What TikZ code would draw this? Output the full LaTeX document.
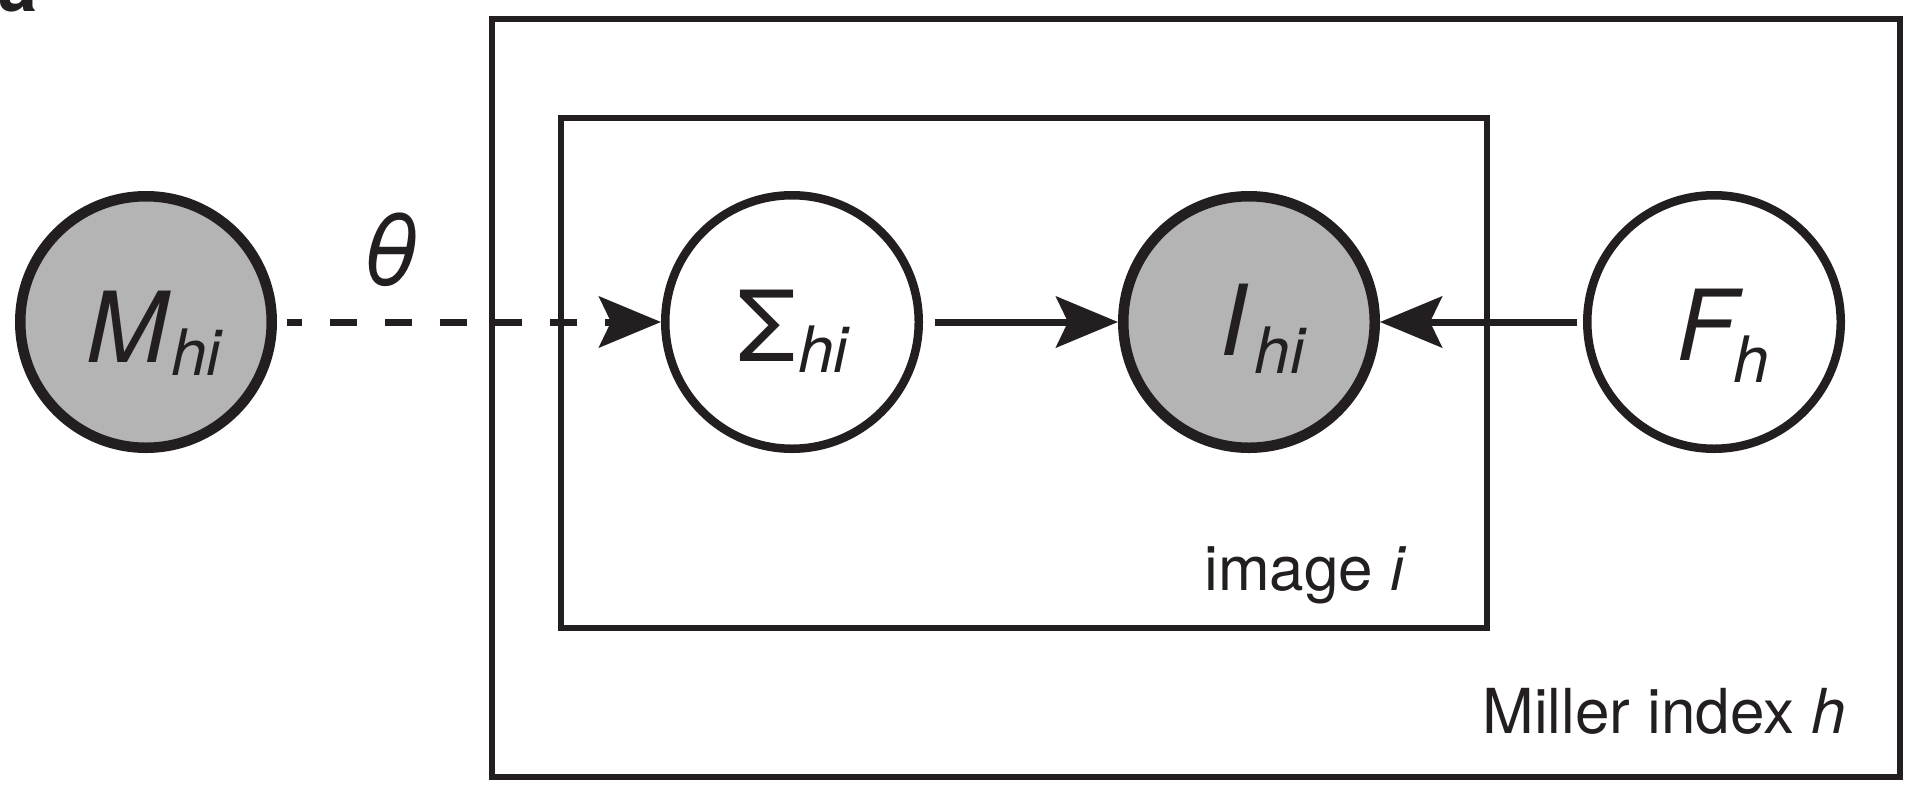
\documentclass[tikz,border=0pt]{standalone}
\usepackage{fontspec}
\setmainfont{TeX Gyre Heros}
\usetikzlibrary{arrows.meta}
\definecolor{ink}{HTML}{231F20}
\definecolor{shade}{RGB}{180,180,180}
% #1 shift right, #2 subscript drop, #3 main symbol, #4 subscript, #5 kern before subscript
\newcommand{\varlbl}[5]{\hspace*{#1}#3\kern#5\raisebox{-#2}{\fontsize{32pt}{32pt}\selectfont\textit{#4}}}
\begin{document}
\begin{tikzpicture}[x=0.5pt,y=-0.5pt,
  every node/.style={text=ink},
  bigfont/.style={font=\fontsize{49pt}{49pt}\selectfont},
  thickc/.style={circle, draw=ink, fill=shade, line width=5.25pt, minimum size=125.75pt, inner sep=0pt, text depth=0pt, bigfont},
  thinc/.style={circle, draw=ink, fill=white, line width=4.25pt, minimum size=126.75pt, inner sep=0pt, text depth=0pt, bigfont},
  plate/.style={draw=ink, line width=2.75pt, inner sep=0pt, outer sep=0pt, anchor=north west},
  tip/.style={-{Stealth[length=31pt,width=25.5pt,inset=6pt]}},
  conn/.style={draw=ink, line width=3.5pt, tip},
  smallfont/.style={font=\fontsize{31pt}{31pt}\selectfont, inner sep=0pt},
]
\useasboundingbox (0,0) rectangle (1920,798);
% plates
\node[plate, minimum width=704pt, minimum height=379pt] (outer) at (492,19) {};
\node[plate, minimum width=463pt, minimum height=255pt] (inner) at (561,118) {};
% variables
\node[thickc, text height=40pt] (M) at (146,322) {\varlbl{9pt}{6.5pt}{\textit{M}}{hi}{0pt}};
\node[thinc, text height=39pt]  (S) at (792,322) {\varlbl{2pt}{5.5pt}{Σ}{hi}{1pt}};
\node[thickc, text height=33pt] (I) at (1249,322) {\varlbl{14pt}{9pt}{\textit{I}}{hi}{3pt}};
\node[thinc, text height=38pt]  (F) at (1714,322) {\varlbl{9pt}{11pt}{\textit{F}}{h}{-5pt}};
% connectors
\draw[conn, dash pattern=on 13.5pt off 14pt, dash phase=6pt, shorten <=5pt] (M) -- (S);
\draw[conn, shorten <=6pt] (S) -- (I);
\draw[conn, shorten <=3pt] (F) -- (I);
% labels
\node[bigfont, inner sep=0pt] (theta) at (390,250) {\textit{θ}};
\node[smallfont, anchor=base west] (imgl) at (1204,590) {image \textit{i}};
\node[smallfont, anchor=base west] (mill) at (1482,733) {Miller index \textit{h}};
\node[font=\bfseries\fontsize{35pt}{35pt}\selectfont, anchor=base west, inner sep=0pt] (panel) at (-2,11) {a};
\end{tikzpicture}
\end{document}
